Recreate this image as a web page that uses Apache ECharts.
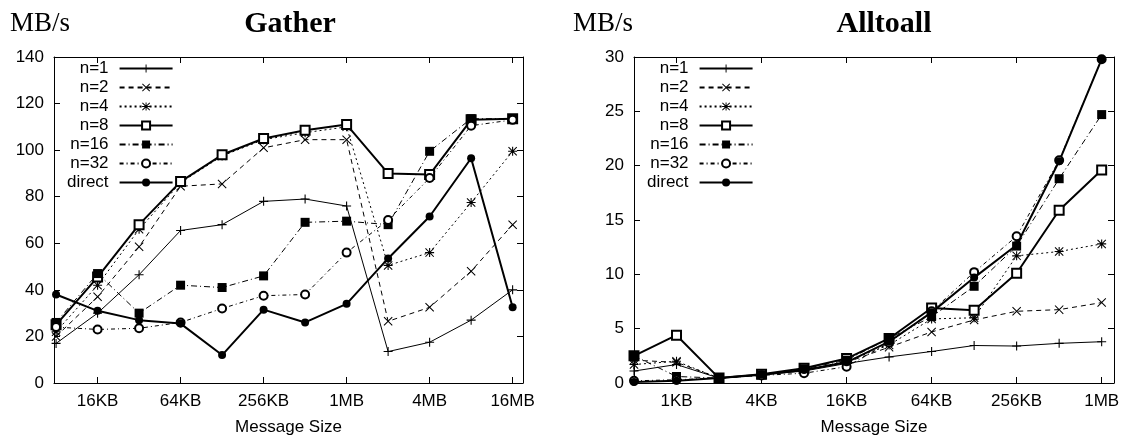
<!DOCTYPE html>
<html>
<head>
<meta charset="utf-8">
<title>Gather / Alltoall</title>
<script src="https://cdn.jsdelivr.net/npm/echarts@6/dist/echarts.min.js"></script>
<style>
  html, body { margin: 0; padding: 0; background: #fff; }
  #chart { width: 1123px; height: 442px; }
</style>
</head>
<body>
<div id="chart"></div>
<script>
  // message sizes in KB
  const gatherSizes = [8, 16, 32, 64, 128, 256, 512, 1024, 2048, 4096, 8192, 16384];
  const alltoallSizes = [0.5, 1, 2, 4, 8, 16, 32, 64, 128, 256, 512, 1024];

  // labelled ticks (KB)
  const gatherTicks = [16, 64, 256, 1024, 4096, 16384];
  const alltoallTicks = [1, 4, 16, 64, 256, 1024];

  const seriesNames = ['n=1', 'n=2', 'n=4', 'n=8', 'n=16', 'n=32', 'direct'];

  // Gather, MB/s
  const gatherN1 = [17, 30, 46.5, 65.5, 68, 78, 79, 76, 13.5, 17.5, 27, 40];
  const gatherN2 = [20, 37, 58.5, 84.5, 85.5, 101, 104.5, 104.5, 26.5, 32.5, 48, 68];
  const gatherN4 = [22, 42, 66, 86, 97.5, 104.5, 107.5, 110, 50.5, 56, 77.5, 99.5];
  const gatherN8 = [25, 45.5, 68, 86.5, 98, 105, 108.5, 111, 90, 89.5, 113, 113.5];
  const gatherN16 = [26, 47, 30, 42, 41, 46, 69, 69.5, 68, 99.5, 113.5, 113.5];
  const gatherN32 = [24, 23, 23.5, 26, 32, 37.5, 38, 56, 70, 88, 110.5, 113];
  const gatherDirect = [38, 31, 27, 25.5, 12, 31.5, 26, 34, 53.5, 71.5, 96.5, 32.5];

  // Alltoall, MB/s
  const allN1 = [1.1, 1.7, 0.45, 0.75, 1.1, 1.8, 2.4, 2.9, 3.45, 3.4, 3.65, 3.8];
  const allN2 = [2.1, 1.9, 0.45, 0.75, 1.2, 1.9, 3.3, 4.7, 5.8, 6.6, 6.75, 7.4];
  const allN4 = [1.7, 2.0, 0.45, 0.75, 1.2, 2.0, 3.5, 5.9, 6.0, 11.7, 12.1, 12.8];
  const allN8 = [2.5, 4.4, 0.45, 0.8, 1.35, 2.25, 4.1, 6.9, 6.7, 10.1, 15.9, 19.6];
  const allN16 = [2.5, 0.6, 0.45, 0.75, 1.3, 2.1, 4.1, 6.1, 8.9, 12.6, 18.8, 24.7];
  const allN32 = [0.2, 0.3, 0.45, 0.7, 0.9, 1.5, 3.7, 6.6, 10.2, 13.5, 20.5, 29.8];
  const allDirect = [0.1, 0.2, 0.45, 0.75, 1.2, 1.9, 3.8, 6.5, 9.7, 12.7, 20.4, 29.8];

  const gatherData = [gatherN1, gatherN2, gatherN4, gatherN8, gatherN16, gatherN32, gatherDirect];
  const alltoallData = [allN1, allN2, allN4, allN8, allN16, allN32, allDirect];

  const SANS = '"Liberation Sans", Arial, sans-serif';
  const SERIF = '"Liberation Serif", "Times New Roman", serif';

  // gnuplot-like point types
  const PLUS = 'path://M0,4.4H10V5.6H0Z M4.4,0H5.6V10H4.4Z';
  const CROSS = 'path://M0.8,0L5,4.2L9.2,0L10,0.8L5.8,5L10,9.2L9.2,10L5,5.8L0.8,10L0,9.2L4.2,5L0,0.8Z';
  const STAR = 'path://M0.8,0L5,4.2L9.2,0L10,0.8L5.8,5L10,9.2L9.2,10L5,5.8L0.8,10L0,9.2L4.2,5L0,0.8Z M0,4.4H10V5.6H0Z M4.4,0H5.6V10H4.4Z';

  const styles = [
    {type: 'solid', width: 1, symbol: PLUS, size: 9, border: 0},
    {type: [5, 4], width: 1, symbol: CROSS, size: 9, border: 0},
    {type: [2, 3], width: 1, symbol: STAR, size: 9, border: 0},
    {type: 'solid', width: 2, symbol: 'emptyRect', size: 9, border: 1.5},
    {type: [6, 3, 1, 3], width: 1, symbol: 'rect', size: 9, border: 0},
    {type: [4, 3, 1, 3], width: 1, symbol: 'emptyCircle', size: 8, border: 1},
    {type: 'solid', width: 2, symbol: 'circle', size: 8, border: 0}
  ];

  function sizeLabel(kb) {
    if (kb >= 1024) return (kb / 1024) + 'MB';
    return kb + 'KB';
  }

  function makeSeries(sizes, values, i, axisIdx) {
    const s = styles[i];
    return {
      name: seriesNames[i],
      type: 'line',
      xAxisIndex: axisIdx,
      yAxisIndex: axisIdx,
      data: sizes.map(function (kb, k) { return [Math.log2(kb), values[k]]; }),
      symbol: s.symbol,
      symbolSize: s.size,
      showAllSymbol: true,
      lineStyle: {color: '#000', width: s.width, type: s.type},
      itemStyle: {color: '#000', borderColor: '#000', borderWidth: s.border},
      emphasis: {disabled: true},
      z: 2
    };
  }

  function xAxes(gridIndex, min, max, ticks) {
    const tickVals = ticks.map(function (kb) { return Math.log2(kb); });
    const base = {
      type: 'value', gridIndex: gridIndex, min: min, max: max,
      axisLine: {show: true, onZero: false, lineStyle: {color: '#000', width: 1}},
      axisTick: {show: true, inside: true, length: 6, customValues: tickVals, lineStyle: {color: '#000'}},
      splitLine: {show: false}
    };
    return [
      Object.assign({}, base, {
        position: 'bottom',
        name: 'Message Size', nameLocation: 'middle', nameGap: 36,
        nameTextStyle: {fontFamily: SANS, fontSize: 17, color: '#000'},
        axisLabel: {
          show: true, margin: 10, customValues: tickVals,
          fontFamily: SANS, fontSize: 17, color: '#000',
          formatter: function (v) { return sizeLabel(Math.round(Math.pow(2, v) * 1000) / 1000); }
        }
      }),
      Object.assign({}, base, {position: 'top', axisLabel: {show: false}})
    ];
  }

  function yAxes(gridIndex, max, interval) {
    const base = {
      type: 'value', gridIndex: gridIndex, min: 0, max: max, interval: interval,
      axisLine: {show: true, onZero: false, lineStyle: {color: '#000', width: 1}},
      axisTick: {show: true, inside: true, length: 6, lineStyle: {color: '#000'}},
      splitLine: {show: false}
    };
    return [
      Object.assign({}, base, {
        position: 'left',
        axisLabel: {show: true, margin: 10, fontFamily: SANS, fontSize: 17, color: '#000'}
      }),
      Object.assign({}, base, {position: 'right', axisLabel: {show: false}})
    ];
  }

  const legendBase = {
    data: seriesNames, orient: 'vertical', align: 'right',
    itemWidth: 53, itemHeight: 10, itemGap: 2, padding: 0,
    selectedMode: false,
    textStyle: {fontFamily: SANS, fontSize: 17, color: '#000', padding: [0, 6, 0, 0]}
  };

  const series = [];
  gatherData.forEach(function (vals, i) { series.push(makeSeries(gatherSizes, vals, i, 0)); });
  alltoallData.forEach(function (vals, i) { series.push(makeSeries(alltoallSizes, vals, i, 2)); });

  const option = {
    animation: false,
    backgroundColor: '#fff',
    grid: [
      {left: 54, top: 57, width: 469, height: 326},
      {left: 634, top: 57, width: 480, height: 326}
    ],
    xAxis: xAxes(0, 2.95, 14.25, gatherTicks).concat(xAxes(1, -1, 10.29, alltoallTicks)),
    yAxis: yAxes(0, 140, 20).concat(yAxes(1, 30, 5)),
    legend: [
      Object.assign({}, legendBase, {left: 67, top: 60}),
      Object.assign({}, legendBase, {left: 647, top: 60})
    ],
    graphic: [
      {type: 'text', x: 10, y: 24, style: {text: 'MB/s', font: '27px ' + SERIF, fill: '#000', textAlign: 'left', textVerticalAlign: 'middle'}},
      {type: 'text', x: 290, y: 24, style: {text: 'Gather', font: 'bold 30px ' + SERIF, fill: '#000', textAlign: 'center', textVerticalAlign: 'middle'}},
      {type: 'text', x: 573, y: 24, style: {text: 'MB/s', font: '27px ' + SERIF, fill: '#000', textAlign: 'left', textVerticalAlign: 'middle'}},
      {type: 'text', x: 884, y: 24, style: {text: 'Alltoall', font: 'bold 30px ' + SERIF, fill: '#000', textAlign: 'center', textVerticalAlign: 'middle'}}
    ],
    series: series
  };

  const myChart = echarts.init(document.getElementById('chart'));
  myChart.setOption(option);
</script>
</body>
</html>
